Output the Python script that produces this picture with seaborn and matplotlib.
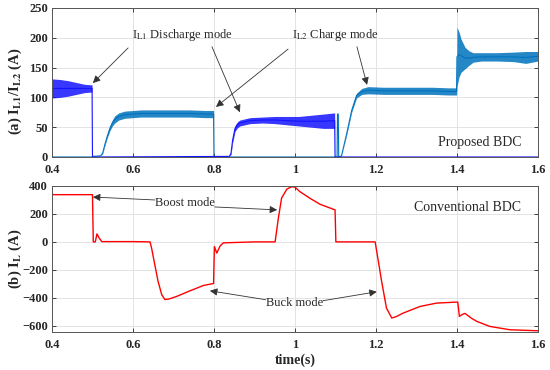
import matplotlib
matplotlib.use("Agg")
import matplotlib.pyplot as plt
import numpy as np
import seaborn as sns

# (a) proposed BDC - inductor currents (A), mean value + ripple half-width
t_l1 = [0.40, 0.42, 0.44, 0.46, 0.48, 0.499, 0.500, 0.838, 0.842, 0.846, 0.852, 0.858, 0.864,
        0.889, 0.92, 0.95, 0.98, 1.01, 1.04, 1.07, 1.098, 1.099, 1.60]
i_l1 = [115, 115, 115, 115, 115, 115, 0, 1, 6, 28, 48, 54, 57,
        61, 62, 62, 61, 60, 60, 60, 61, 0, 0]
r_l1 = [16, 15, 13, 10, 7, 6, 0, 0, 2, 4, 5, 5, 5,
        5, 5, 6, 7, 8, 10, 12, 13, 0, 0]

t_l2 = [0.40, 0.500, 0.501, 0.52, 0.525, 0.531, 0.537, 0.543, 0.549, 0.555, 0.565, 0.58, 0.62,
        0.66, 0.70, 0.74, 0.78, 0.799, 0.800, 1.104, 1.105, 1.107, 1.108, 1.115, 1.128, 1.14,
        1.152, 1.165, 1.18, 1.22, 1.26, 1.30, 1.34, 1.38, 1.399, 1.400, 1.405, 1.41, 1.42, 1.43,
        1.44, 1.46, 1.50, 1.54, 1.57, 1.60]
i_l2 = [0, 0, 1, 2, 6, 22, 36, 48, 57, 63, 68, 71, 73,
        73, 73, 73, 72, 72, 0, 0, 72, 72, 0, 2, 40, 78,
        103, 110, 112, 111, 111, 111, 111, 110, 110, 168, 172, 170, 166, 166,
        167, 168, 168, 168, 167, 169]
r_l2 = [0, 0, 0, 0, 1, 2, 3, 4, 5, 6, 6, 6, 6,
        6, 6, 6, 6, 6, 0, 0, 0, 0, 0, 0, 2, 3,
        4, 5, 6, 6, 6, 6, 6, 6, 6, 50, 38, 28, 18, 12,
        8, 7, 7, 8, 10, 8]

# (b) conventional BDC - inductor current (A)
t_conv = [0.40, 0.500, 0.502, 0.507, 0.511, 0.516, 0.523, 0.60, 0.642, 0.646, 0.654, 0.662, 0.671,
          0.679, 0.69, 0.708, 0.741, 0.774, 0.799, 0.801, 0.807, 0.815, 0.823, 0.90, 0.951, 0.959,
          0.967, 0.98, 0.992, 1.0, 1.012, 1.037, 1.062, 1.099, 1.101, 1.198, 1.206, 1.214, 1.226,
          1.239, 1.25, 1.267, 1.309, 1.35, 1.399, 1.402, 1.406, 1.413, 1.42, 1.435, 1.449, 1.481,
          1.531, 1.597, 1.60]
i_conv = [338, 338, 0, 0, 57, 30, 2, 2, 0, -45, -165, -283, -378,
          -413, -408, -390, -350, -312, -298, -33, -80, -30, -7, 0, 0, 170,
          314, 378, 395, 392, 360, 312, 269, 229, 0, 0, -141, -283, -474,
          -545, -535, -510, -462, -438, -431, -431, -533, -520, -512, -545, -569, -605,
          -629, -636, -636]

x_ticks = [0.4, 0.6, 0.8, 1.0, 1.2, 1.4, 1.6]
x_ticklabels = ["0.4", "0.6", "0.8", "1", "1.2", "1.4", "1.6"]

c_l1 = "#1414ff"
c_l2 = "#0072bd"
c_red = "#ff0000"

sns.set_style("ticks")
plt.rcParams["font.family"] = ["Liberation Serif", "DejaVu Serif"]
plt.rcParams["mathtext.fontset"] = "stix"

fig = plt.figure(figsize=(5.5, 3.7), dpi=100)
ax1 = fig.add_axes([0.0945, 0.5757, 0.8836, 0.4027])
ax2 = fig.add_axes([0.0945, 0.1027, 0.8836, 0.3946])

# top panel
t2 = np.array(t_l2); m2 = np.array(i_l2); r2 = np.array(r_l2)
ax1.fill_between(t2, m2 - r2, m2 + r2, color=c_l2, lw=0, alpha=0.85)
sns.lineplot(x=t_l2, y=i_l2, ax=ax1, color=c_l2, lw=0.8, estimator=None, sort=False)
t1 = np.array(t_l1); m1 = np.array(i_l1); r1 = np.array(r_l1)
ax1.fill_between(t1, m1 - r1, m1 + r1, color=c_l1, lw=0, alpha=0.85)
sns.lineplot(x=t_l1, y=i_l1, ax=ax1, color=c_l1, lw=0.8, estimator=None, sort=False)

ax1.set_ylim(0, 250)
ax1.set_yticks([0, 50, 100, 150, 200, 250])
ax1.set_ylabel(r"(a) I$_{\mathbf{L1}}$/I$_{\mathbf{L2}}$ (A)", fontsize=10.5, fontweight="bold")
ax1.yaxis.set_label_coords(-0.058, 0.44)

# bottom panel
sns.lineplot(x=t_conv, y=i_conv, ax=ax2, color=c_red, lw=1.0, estimator=None, sort=False)
ax2.set_ylim(-645, 400)
ax2.set_yticks([-600, -400, -200, 0, 200, 400])
ax2.set_ylabel(r"(b) I$_{\mathbf{L}}$ (A)", fontsize=10.5, fontweight="bold")
ax2.yaxis.set_label_coords(-0.058, 0.5)
ax2.set_xlabel("time(s)", fontsize=10, fontweight="bold", labelpad=2)

for ax in (ax1, ax2):
    ax.set_xlim(0.4, 1.6)
    ax.set_xticks(x_ticks)
    ax.set_xticklabels(x_ticklabels)
    ax.grid(True, color="#e3e3e3", lw=0.7)
    ax.tick_params(direction="in", top=True, right=True, length=3, width=0.6,
                   labelsize=9, pad=3, colors="#262626")
    ax.tick_params(axis="x", pad=5)
    for lab in ax.get_xticklabels() + ax.get_yticklabels():
        lab.set_fontweight("bold")
    for s in ax.spines.values():
        s.set_visible(True)
        s.set_color("#555555")
        s.set_linewidth(0.7)
    if ax is ax1:
        ax.set_xlabel("")

arrow = dict(arrowstyle="-|>", color="#333333", lw=0.6, mutation_scale=11, shrinkA=0, shrinkB=0)

ax1.text(0.5975, 205, r"I$_{\mathrm{L1}}$ Discharge mode", fontsize=9, ha="left", va="center")
ax1.text(0.992, 205, r"I$_{\mathrm{L2}}$ Charge mode", fontsize=9, ha="left", va="center")
ax1.text(1.457, 25, "Proposed BDC", fontsize=10, ha="center", va="center")
ax1.annotate("", xy=(0.501, 124), xytext=(0.588, 183), arrowprops=arrow)
ax1.annotate("", xy=(0.864, 75), xytext=(0.795, 185), arrowprops=arrow)
ax1.annotate("", xy=(0.805, 84), xytext=(0.983, 181), arrowprops=arrow)
ax1.annotate("", xy=(1.178, 121), xytext=(1.153, 185), arrowprops=arrow)

ax2.text(0.728, 279, "Boost mode", fontsize=9, ha="center", va="center")
ax2.text(1.0, -436, "Buck mode", fontsize=9, ha="center", va="center")
ax2.text(1.427, 243, "Conventional BDC", fontsize=10, ha="center", va="center")
ax2.annotate("", xy=(0.501, 321), xytext=(0.654, 300), arrowprops=arrow)
ax2.annotate("", xy=(0.956, 229), xytext=(0.802, 250), arrowprops=arrow)
ax2.annotate("", xy=(0.790, -350), xytext=(0.928, -414), arrowprops=arrow)
ax2.annotate("", xy=(1.202, -357), xytext=(1.069, -421), arrowprops=arrow)

fig.savefig("out.png", dpi=100)
